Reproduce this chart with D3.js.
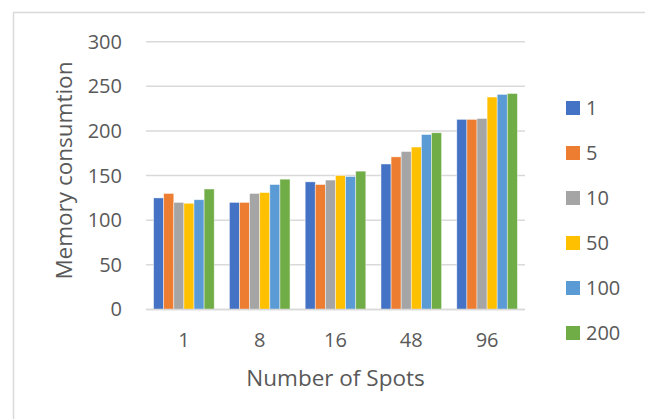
<!DOCTYPE html>
<html>
<head>
<meta charset="utf-8">
<script src="https://cdn.jsdelivr.net/npm/d3@7"></script>
<style>
  html, body { margin: 0; padding: 0; background: #fff; }
  svg { display: block; }
  text { font-family: "Open Sans", "Noto Sans", sans-serif; fill: #595959; }
</style>
</head>
<body>
<svg id="chart" width="645" height="419"></svg>
<script>
// Number of spots on the x axis
const categories = ["1", "8", "16", "48", "96"];
// Series names shown in the legend
const seriesNames = ["1", "5", "10", "50", "100", "200"];
// Memory consumption per series, one value per category
const s1   = [125, 120, 143, 163, 213];
const s5   = [130, 120, 140, 171, 213];
const s10  = [120, 130, 145, 177, 214];
const s50  = [119, 131, 150, 182, 238];
const s100 = [123, 140, 149, 196, 241];
const s200 = [135, 146, 155, 198, 242];
const seriesValues = [s1, s5, s10, s50, s100, s200];
const yTicks = [0, 50, 100, 150, 200, 250, 300];
const colors = ["#4472C4", "#ED7D31", "#A5A5A5", "#FFC000", "#5B9BD5", "#70AD47"];

const svg = d3.select("#chart");

// outer chart frame
svg.append("rect")
  .attr("x", 13.5).attr("y", 12.5)
  .attr("width", 700).attr("height", 500)
  .attr("fill", "none").attr("stroke", "#d9d9d9").attr("stroke-width", 1.5);

const plot = { left: 146, right: 525, top: 41.7, bottom: 309.5 };

const x0 = d3.scaleBand()
  .domain(categories)
  .range([plot.left, plot.right])
  .paddingInner(0.2)
  .paddingOuter(0.1);

const x1 = d3.scaleBand()
  .domain(d3.range(seriesNames.length))
  .range([0, x0.bandwidth()]);

const y = d3.scaleLinear()
  .domain([0, 300])
  .range([plot.bottom, plot.top]);

// horizontal gridlines
svg.append("g")
  .selectAll("line")
  .data(yTicks)
  .join("line")
  .attr("x1", plot.left).attr("x2", plot.right)
  .attr("y1", d => y(d)).attr("y2", d => y(d))
  .attr("stroke", "#d9d9d9").attr("stroke-width", 1.5);

// y axis labels
const yAxis = d3.axisLeft(y).tickValues(yTicks).tickSize(0).tickPadding(0);
const gy = svg.append("g")
  .attr("transform", `translate(${plot.left - 24},0)`)
  .call(yAxis);
gy.select(".domain").remove();
gy.selectAll("text")
  .style("font-size", "20px")
  .style("font-family", "\"Open Sans\", sans-serif")
  .attr("fill", "#595959");

// bars
const groups = svg.append("g")
  .selectAll("g")
  .data(categories)
  .join("g")
  .attr("transform", d => `translate(${x0(d)},0)`);

groups.selectAll("rect")
  .data((c, ci) => seriesValues.map((vals, si) => ({ si, v: vals[ci] })))
  .join("rect")
  .attr("x", d => x1(d.si))
  .attr("width", x1.bandwidth())
  .attr("y", d => y(d.v))
  .attr("height", d => y(0) - y(d.v))
  .attr("fill", d => colors[d.si])
  .attr("stroke", "#ffffff")
  .attr("stroke-opacity", 0.6)
  .attr("stroke-width", 0.75);

// baseline
svg.append("line")
  .attr("x1", plot.left).attr("x2", plot.right)
  .attr("y1", y(0)).attr("y2", y(0))
  .attr("stroke", "#d9d9d9").attr("stroke-width", 1.5);

// x axis labels
const xAxis = d3.axisBottom(x0).tickSize(0).tickPadding(0);
const gx = svg.append("g")
  .attr("transform", `translate(0,${plot.bottom + 23})`)
  .call(xAxis);
gx.select(".domain").remove();
gx.selectAll("text")
  .style("font-size", "20px")
  .style("font-family", "\"Open Sans\", sans-serif")
  .attr("fill", "#595959");

// axis titles
svg.append("text")
  .attr("x", (plot.left + plot.right) / 2)
  .attr("y", 386)
  .attr("text-anchor", "middle")
  .style("font-size", "22.5px")
  .text("Number of Spots");

svg.append("text")
  .attr("transform", `translate(72,${(plot.top + plot.bottom) / 2 - 5}) rotate(-90)`)
  .attr("text-anchor", "middle")
  .style("font-size", "22.5px")
  .text("Memory consumtion");

// legend
const legend = svg.append("g")
  .selectAll("g")
  .data(seriesNames)
  .join("g")
  .attr("transform", (d, i) => `translate(566,${108 + i * 45})`);

legend.append("rect")
  .attr("x", 0).attr("y", -7)
  .attr("width", 14).attr("height", 14)
  .attr("fill", (d, i) => colors[i]);

legend.append("text")
  .attr("x", 20)
  .attr("y", 0)
  .attr("dy", "0.35em")
  .style("font-size", "20px")
  .text(d => d);
</script>
</body>
</html>
